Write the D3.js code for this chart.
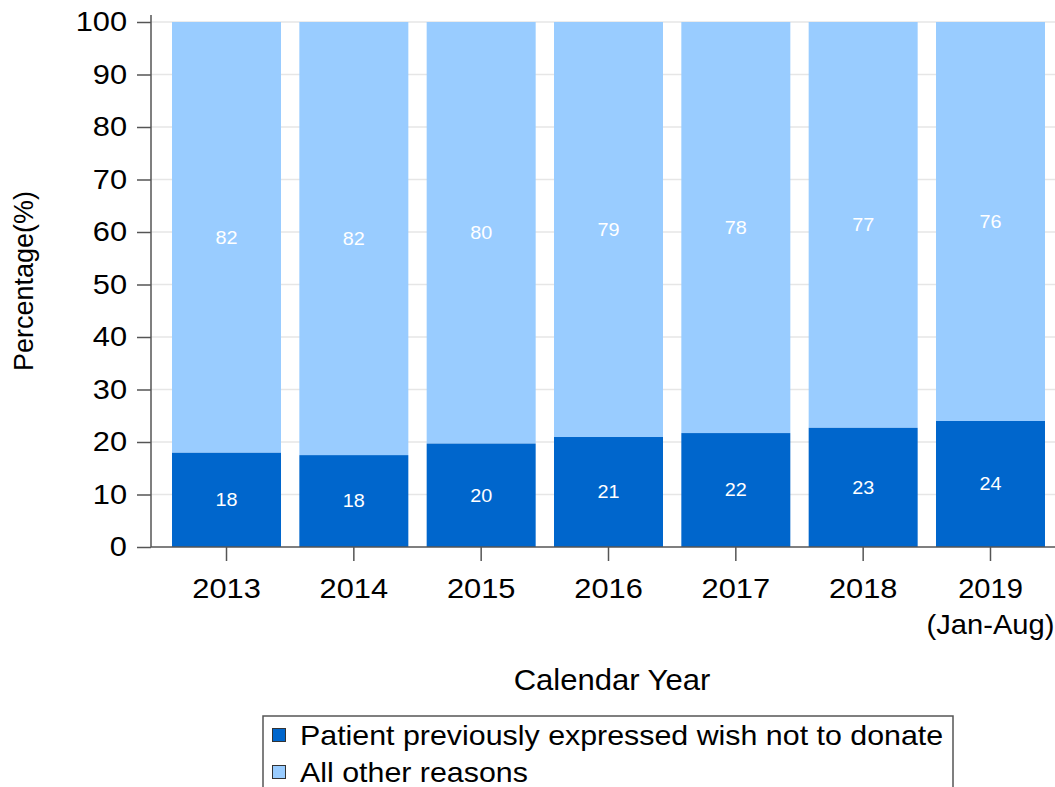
<!DOCTYPE html>
<html>
<head>
<meta charset="utf-8">
<script src="https://cdn.jsdelivr.net/npm/d3@7"></script>
<style>
  body { margin: 0; background: #fff; }
  text { font-family: "Liberation Sans", Arial, sans-serif; }
</style>
</head>
<body>
<script>
// data
var years = ["2013", "2014", "2015", "2016", "2017", "2018", "2019"];
var yearNotes = ["", "", "", "", "", "", "(Jan-Aug)"];
var wishNotToDonate = [17.95, 17.5, 19.7, 20.95, 21.7, 22.7, 24.0];
var wishLabels = ["18", "18", "20", "21", "22", "23", "24"];
var otherLabels = ["82", "82", "80", "79", "78", "77", "76"];
var seriesNames = ["Patient previously expressed wish not to donate", "All other reasons"];
var yTicks = [0, 10, 20, 30, 40, 50, 60, 70, 80, 90, 100];

var darkBlue = "#0066cc",
    lightBlue = "#99ccff",
    axisColour = "#555",
    stretch = 1.1;   // text in the original is a little wide

var width = 1055, height = 787,
    margin = {top: 22, left: 151},
    plotHeight = 525;

var svg = d3.select("body").append("svg")
    .attr("width", width)
    .attr("height", height);

// widen glyphs horizontally around their anchor point
function widen(sel, k) {
    sel.each(function(d, i) {
        var t = d3.select(this),
            kk = (typeof k === "function") ? k(d, i) : k,
            ax = +t.attr("x") || 0,
            ay = +t.attr("y") || 0;
        t.attr("transform", "translate(" + ax + "," + ay + ") scale(" + kk + ",1) translate(" + (-ax) + "," + (-ay) + ")");
    });
}

var x = d3.scaleBand()
    .domain(years)
    .range([margin.left, 1066])
    .paddingInner(0.144)
    .paddingOuter(0.165);

var y = d3.scaleLinear()
    .domain([0, 100])
    .range([margin.top + plotHeight, margin.top]);

// gridlines
svg.append("g")
    .selectAll("line")
    .data(yTicks.slice(1))
    .enter().append("line")
    .attr("x1", margin.left).attr("x2", width)
    .attr("y1", function(d) { return y(d); })
    .attr("y2", function(d) { return y(d); })
    .attr("stroke", "#e6e6e6")
    .attr("stroke-width", 1.5);

// stacked bars
var rows = years.map(function(yr, i) {
    return {year: yr, a: wishNotToDonate[i], la: wishLabels[i], lb: otherLabels[i]};
});

var bars = svg.append("g");
bars.selectAll("rect.other")
    .data(rows).enter().append("rect")
    .attr("class", "other")
    .attr("x", function(d) { return x(d.year); })
    .attr("width", x.bandwidth())
    .attr("y", y(100))
    .attr("height", function(d) { return y(d.a) - y(100); })
    .attr("fill", lightBlue);

bars.selectAll("rect.wish")
    .data(rows).enter().append("rect")
    .attr("class", "wish")
    .attr("x", function(d) { return x(d.year); })
    .attr("width", x.bandwidth())
    .attr("y", function(d) { return y(d.a); })
    .attr("height", function(d) { return y(0) - y(d.a); })
    .attr("fill", darkBlue);

// value labels
bars.selectAll("text.wl")
    .data(rows).enter().append("text")
    .attr("class", "wl")
    .attr("x", function(d) { return x(d.year) + x.bandwidth() / 2; })
    .attr("y", function(d) { return y(d.a / 2); })
    .attr("dy", "0.35em")
    .attr("text-anchor", "middle")
    .attr("fill", "#fff")
    .attr("font-size", 18)
    .text(function(d) { return d.la; });

bars.selectAll("text.ol")
    .data(rows).enter().append("text")
    .attr("class", "ol")
    .attr("x", function(d) { return x(d.year) + x.bandwidth() / 2; })
    .attr("y", function(d) { return y((d.a + 100) / 2); })
    .attr("dy", "0.35em")
    .attr("text-anchor", "middle")
    .attr("fill", "#fff")
    .attr("font-size", 18)
    .text(function(d) { return d.lb; });

// y axis
var yAxis = svg.append("g")
    .attr("transform", "translate(" + margin.left + ",0)")
    .call(d3.axisLeft(y).tickValues(yTicks).tickSize(14).tickPadding(10));
yAxis.select(".domain").attr("d", "M0," + y(0) + "V15").attr("stroke", axisColour).attr("stroke-width", 1.5);
yAxis.selectAll(".tick line").attr("stroke", axisColour).attr("stroke-width", 1.5);
yAxis.selectAll(".tick text").attr("font-size", 28).attr("fill", "#000").attr("font-family", null);

// x axis
var xAxis = svg.append("g")
    .attr("transform", "translate(0," + y(0) + ")")
    .call(d3.axisBottom(x).tickSize(14).tickPadding(17).tickSizeOuter(0));
xAxis.select(".domain").attr("d", "M" + margin.left + ",0H" + width).attr("stroke", axisColour).attr("stroke-width", 1.5);
xAxis.selectAll(".tick line").attr("stroke", axisColour).attr("stroke-width", 1.5);
xAxis.selectAll(".tick text").attr("font-size", 28).attr("fill", "#000").attr("font-family", null)
    .each(function(d, i) {
        if (yearNotes[i]) {
            d3.select(this).append("tspan")
                .attr("x", 0).attr("dy", "1.3em")
                .text(yearNotes[i]);
        }
    });

// axis titles
svg.append("text")
    .attr("transform", "translate(33," + 281 + ") rotate(-90)")
    .attr("text-anchor", "middle")
    .attr("font-size", 27)
    .text("Percentage(%)");

var xTitle = svg.append("text")
    .attr("x", 612)
    .attr("y", 690)
    .attr("text-anchor", "middle")
    .attr("font-size", 29)
    .text("Calendar Year");

// legend
var legend = svg.append("g").attr("transform", "translate(263,716)");
legend.append("rect")
    .attr("x", 0).attr("y", 0)
    .attr("width", 690).attr("height", 90)
    .attr("fill", "none")
    .attr("stroke", "#555")
    .attr("stroke-width", 1.5);

var items = legend.selectAll("g.item")
    .data(seriesNames).enter().append("g")
    .attr("transform", function(d, i) { return "translate(0," + (i * 37) + ")"; });
items.append("rect")
    .attr("x", 9.5).attr("y", 12.5)
    .attr("width", 13).attr("height", 13)
    .attr("fill", function(d, i) { return i === 0 ? darkBlue : lightBlue; })
    .attr("stroke", "#333")
    .attr("stroke-width", 1);
var legendText = items.append("text")
    .attr("x", 37).attr("y", 29)
    .attr("font-size", 28)
    .text(function(d) { return d; });

widen(yAxis.selectAll(".tick text"), stretch);
widen(xAxis.selectAll(".tick text"), function(d, i) { return yearNotes[i] ? 1.04 : stretch; });
widen(bars.selectAll("text"), stretch);
widen(xTitle, 1.07);
widen(legendText, 1.085);
</script>
</body>
</html>
